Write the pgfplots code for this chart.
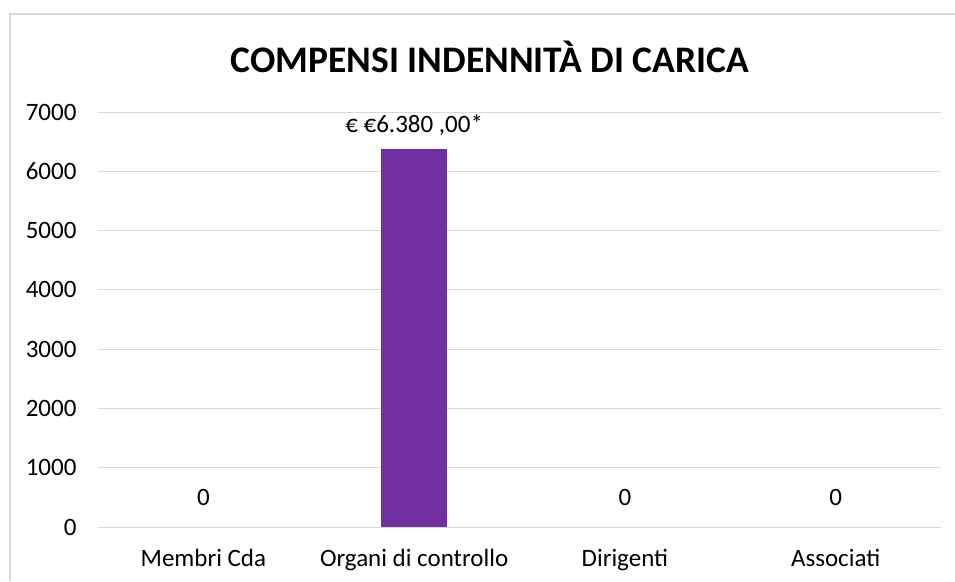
\documentclass[border=0pt]{standalone}
\usepackage{pgfplots}
\pgfplotsset{compat=1.18}
\usepackage{fontspec}
\setmainfont{Carlito}
\definecolor{barpurple}{HTML}{7030A0}
\definecolor{gridgray}{HTML}{D9D9D9}
\begin{document}
\begin{tikzpicture}[x=1pt,y=1pt]
\useasboundingbox (0,0) rectangle (955,581);
\draw[gridgray, line width=1.2pt] (10,0) -- (10,567) -- (955,567);
\node[font=\bfseries\fontsize{37.5}{44}\selectfont] at (490,524) {COMPENSI INDENNITÀ DI CARICA};
\begin{axis}[
  at={(98pt,54pt)}, anchor=south west,
  scale only axis, width=843pt, height=415pt,
  xmin=-0.5, xmax=3.5, ymin=0, ymax=7000,
  axis line style={draw=none},
  major tick length=0pt,
  ymajorgrids, grid style={gridgray, line width=1pt},
  ytick={0,1000,...,7000},
  xtick={0,1,2,3},
  xticklabels={Membri Cda, Organi di controllo, Dirigenti, Associati},
  tick label style={font=\fontsize{25}{30}\selectfont},
  /pgf/number format/assume math mode=true,
  yticklabel style={xshift=-18pt},
  xticklabel style={yshift=-18.5pt},
  scaled y ticks=false,
  yticklabel={\pgfmathprintnumber[fixed,1000 sep={}]{\tick}},
  ybar, bar width=66pt,
  nodes near coords,
  point meta=explicit symbolic,
  every node near coord/.append style={font=\fontsize{25}{30}\selectfont, text=black},
]
\addplot[fill=barpurple, draw=none, bar shift=0pt,
  every node near coord/.append style={yshift=9.5pt}]
  coordinates {(1,6380) [€ €6.380 ,00*]};
\addplot[fill=none, draw=none, bar shift=0pt,
  every node near coord/.append style={yshift=17.5pt}]
  coordinates {(0,0) [0] (2,0) [0] (3,0) [0]};
\end{axis}
\end{tikzpicture}
\end{document}
